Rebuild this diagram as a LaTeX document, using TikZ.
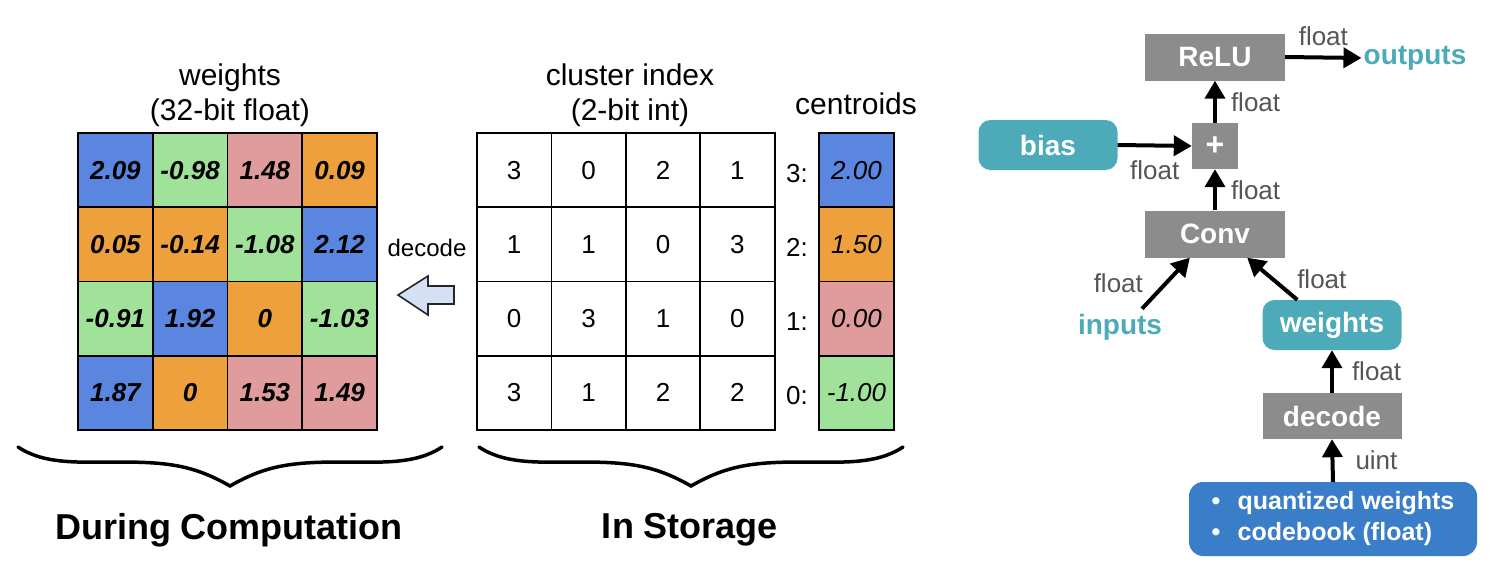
\documentclass[tikz,border=0pt]{standalone}
\usepackage{fontspec}
\setmainfont{Liberation Sans}
\usepackage{tikz}
\usetikzlibrary{arrows.meta,positioning}

\definecolor{cblue}{HTML}{5A86E0}
\definecolor{cgreen}{HTML}{A1E29B}
\definecolor{cpink}{HTML}{E09C9C}
\definecolor{corange}{HTML}{EEA03C}
\definecolor{opgray}{HTML}{8C8C8C}
\definecolor{tealbox}{HTML}{4DAAB9}
\definecolor{codeblue}{HTML}{3A7DC8}
\definecolor{labelgray}{HTML}{555555}
\definecolor{arrowfill}{HTML}{D4E1F5}

\begin{document}
\begin{tikzpicture}[x=1pt, y=-1pt,
    cell/.style={draw=black, line width=1.6pt, minimum width=74.6pt, minimum height=74.2pt, inner sep=0pt, outer sep=0pt, font=\fontsize{26}{30}\selectfont},
    wcell/.style={cell, font=\fontsize{26}{30}\selectfont\bfseries\itshape},
    ccell/.style={cell, font=\fontsize{26}{30}\selectfont\itshape},
    title/.style={font=\fontsize{30}{35}\selectfont, align=center},
    idx/.style={font=\fontsize{26}{30}\selectfont},
    op/.style={fill=opgray, text=white, font=\fontsize{28}{32}\selectfont\bfseries, minimum width=140pt, minimum height=47pt, inner sep=0pt},
    tensor/.style={fill=tealbox, text=white, font=\fontsize{28}{32}\selectfont\bfseries, rounded corners=12pt, minimum width=139pt, minimum height=50pt, inner sep=0pt},
    io/.style={text=tealbox, font=\fontsize{28}{32}\selectfont\bfseries, inner sep=2pt},
    lbl/.style={text=labelgray, font=\fontsize{26}{30}\selectfont, inner sep=1pt},
    flow/.style={line width=4pt, -{Triangle[length=18pt,width=20pt]}},
    brace/.style={line width=3.5pt, line cap=round},
    group/.style={font=\fontsize{36}{40}\selectfont\bfseries}]
    \useasboundingbox (0,0) rectangle (1500,576);

    % weights during computation
    \node[title] (wtitle) at (230,95) {weights\\(32-bit float)};
    \foreach \rowvals [count=\r] in {{2.09/cblue,-0.98/cgreen,1.48/cpink,0.09/corange},
                                     {0.05/corange,-0.14/corange,-1.08/cgreen,2.12/cblue},
                                     {-0.91/cgreen,1.92/cblue,0/corange,-1.03/cgreen},
                                     {1.87/cblue,0/corange,1.53/cpink,1.49/cpink}} {
        \foreach \v/\f [count=\c] in \rowvals {
            \node[wcell, fill=\f] (w\r\c) at ({78+74.75*(\c-0.5)},{133+74.25*(\r-0.5)}) {\v};
        }
    }

    % decode arrow
    \node[font=\fontsize{24}{28}\selectfont] (declbl) at (427,248) {decode};
    \filldraw[fill=arrowfill, draw=black!85, line width=1.6pt] (398,295) -- (428,276) -- (428,286) -- (454,286) -- (454,304) -- (428,304) -- (428,315) -- cycle;

    % cluster index in storage
    \node[title] (ctitle) at (630,95) {cluster index\\(2-bit int)};
    \foreach \rowvals [count=\r] in {{3,0,2,1},{1,1,0,3},{0,3,1,0},{3,1,2,2}} {
        \foreach \v [count=\c] in \rowvals {
            \node[cell] (i\r\c) at ({477+74.4*(\c-0.5)},{133+74.25*(\r-0.5)}) {\v};
        }
    }

    % centroids
    \node[title] (cenlbl) at (856,104) {centroids};
    \foreach \k/\v/\f [count=\r] in {3/2.00/cblue,2/1.50/corange,1/0.00/cpink,0/-1.00/cgreen} {
        \node[ccell, fill=\f, minimum width=75pt] (cen\k) at (856.5,{133+74.25*(\r-0.5)}) {\v};
        \node[idx] (key\k) at (797,{136+74.25*(\r-0.5)}) {\k:};
    }

    % braces
    \foreach \bx in {0,461} {
        \draw[brace] (18+\bx,447) .. controls (45+\bx,465) and (80+\bx,462) .. (120+\bx,462)
            .. controls (170+\bx,462) and (195+\bx,466) .. (230+\bx,486)
            .. controls (265+\bx,466) and (290+\bx,462) .. (340+\bx,462)
            .. controls (380+\bx,462) and (415+\bx,465) .. (442+\bx,447);
    }
    \node[group] (durcomp) at (229,530) {During Computation};
    \node[group] (instore) at (690,530) {In Storage};

    % graph
    \node[op] (relu) at (1215,57) {ReLU};
    \node[op, minimum width=46pt, minimum height=46pt, font=\fontsize{32}{34}\selectfont\bfseries] (plus) at (1215,146) {+};
    \node[op] (conv) at (1215,234) {Conv};
    \node[tensor] (bias) at (1048,145) {bias};
    \node[io] (outputs) at (1415,58) {outputs};
    \node[io] (inputs) at (1120,327) {inputs};
    \node[tensor] (wts) at (1332,325) {weights};
    \node[op, minimum width=139pt, minimum height=46pt] (decode) at (1332,416) {decode};
    \node[fill=codeblue, text=white, rounded corners=14pt, minimum width=288pt, minimum height=74pt, align=left,
          font=\fontsize{25}{31}\selectfont\bfseries] (quant) at (1333,519)
          {\makebox[26pt][l]{\textbullet}quantized weights\\\makebox[26pt][l]{\textbullet}codebook (float)};

    \draw[flow] (relu.east) -- (outputs.west) node[lbl, midway, above=9pt] {float};
    \draw[flow] (plus.north) -- (relu.south) node[lbl, midway, right=13pt] {float};
    \draw[flow] (bias.east) -- (plus.west) node[lbl, midway, below=12pt] {float};
    \draw[flow] (conv.north) -- (plus.south) node[lbl, midway, right=13pt] {float};
    \draw[flow] ([xshift=22pt,yshift=3pt]inputs.north) -- ([xshift=45pt]conv.south west) node[lbl, midway, left=20pt] {float};
    \draw[flow] ([xshift=35pt]wts.north west) -- ([xshift=-38pt]conv.south east) node[lbl, midway, right=22pt] {float};
    \draw[flow] (decode.north) -- (wts.south) node[lbl, midway, right=17pt] {float};
    \draw[flow] (quant.north) -- (decode.south) node[lbl, midway, right=20pt] {uint};
\end{tikzpicture}
\end{document}
